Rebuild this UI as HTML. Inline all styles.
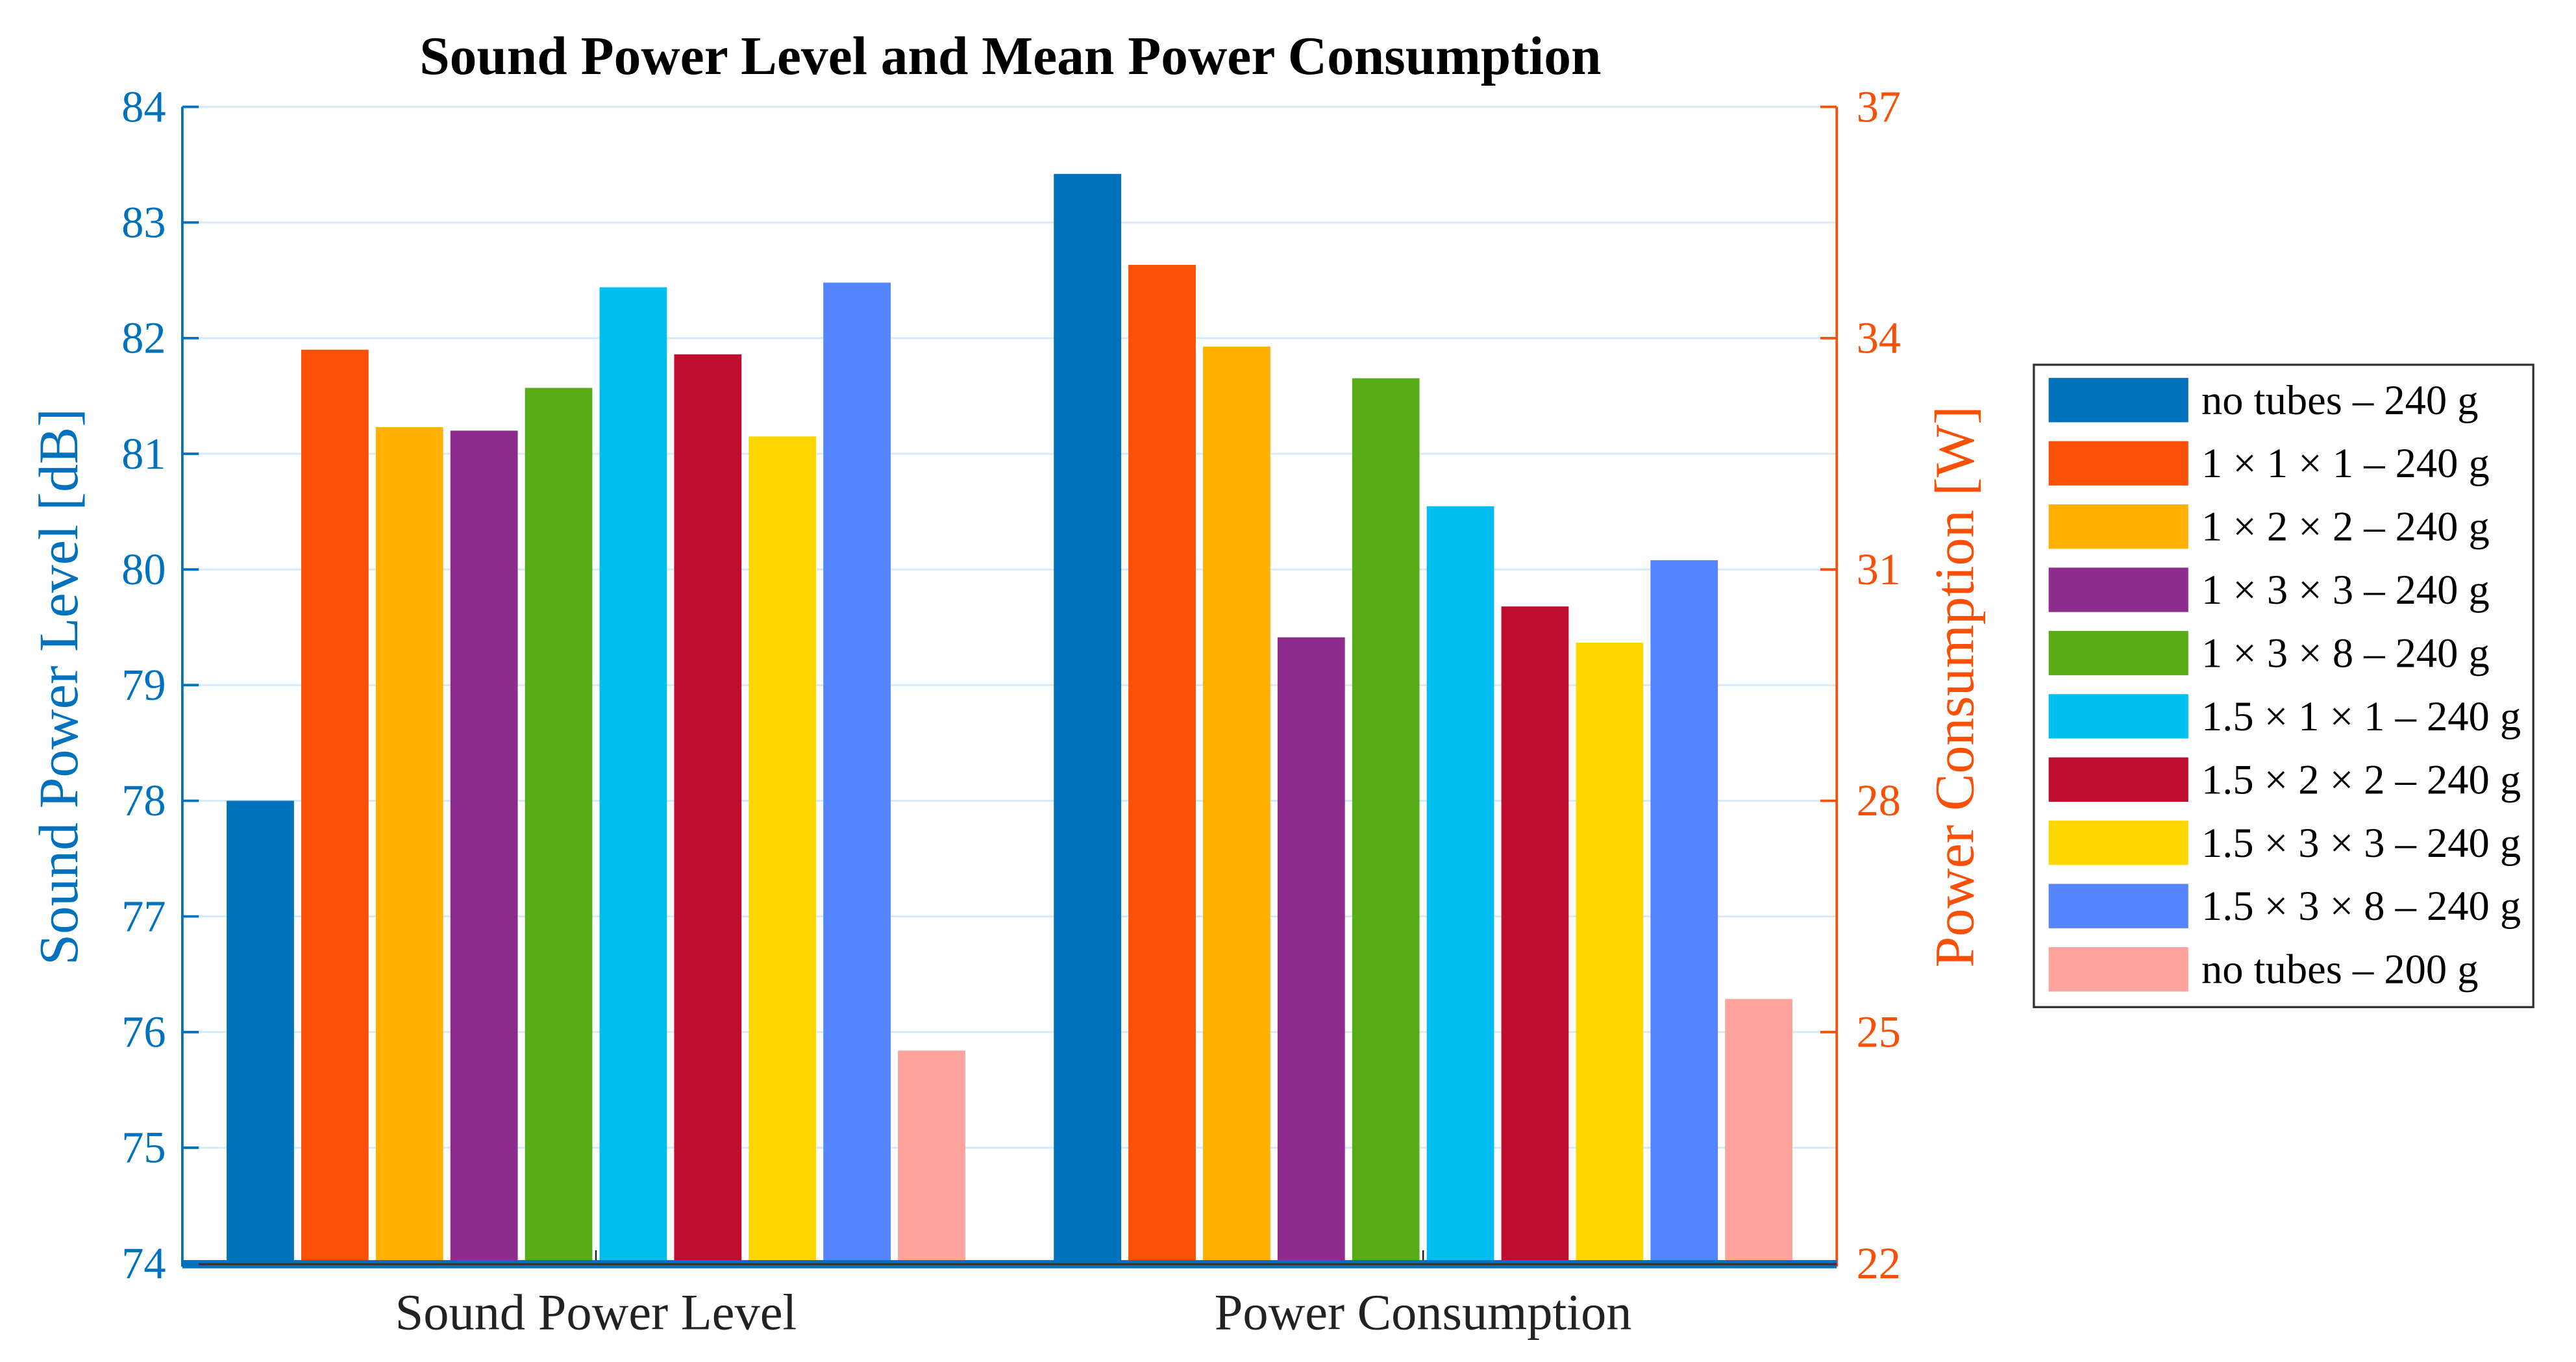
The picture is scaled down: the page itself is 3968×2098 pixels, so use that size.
<!DOCTYPE html>
<html><head><meta charset="utf-8"><style>
html,body{margin:0;padding:0;background:#fff;}
svg{display:block;font-family:"Liberation Serif",serif;}
</style></head><body>
<svg id="chart" width="3968" height="2098" viewBox="0 0 1568 829" xmlns="http://www.w3.org/2000/svg">
<text x="615" y="45" text-anchor="middle" font-size="33" font-weight="bold" fill="#000">Sound Power Level and Mean Power Consumption</text>
<g id="grid"></g>
<g id="bars"></g>
<g id="axes"></g>
<text transform="translate(47,418) rotate(-90)" text-anchor="middle" font-size="34" fill="#0072BD">Sound Power Level [dB]</text>
<text transform="translate(1201,418) rotate(-90)" text-anchor="middle" font-size="34" fill="#F94F06">Power Consumption [W]</text>
<g id="legend"></g>
</svg>
<script>
const categories = ["Sound Power Level", "Power Consumption"];
const seriesNames = ["no tubes \u2013 240 g","1 \u00d7 1 \u00d7 1 \u2013 240 g","1 \u00d7 2 \u00d7 2 \u2013 240 g","1 \u00d7 3 \u00d7 3 \u2013 240 g","1 \u00d7 3 \u00d7 8 \u2013 240 g","1.5 \u00d7 1 \u00d7 1 \u2013 240 g","1.5 \u00d7 2 \u00d7 2 \u2013 240 g","1.5 \u00d7 3 \u00d7 3 \u2013 240 g","1.5 \u00d7 3 \u00d7 8 \u2013 240 g","no tubes \u2013 200 g"];
const soundValues = [78.0, 81.9, 81.23, 81.2, 81.57, 82.44, 81.86, 81.15, 82.48, 75.84];
const powerValues = [36.13, 34.95, 33.89, 30.12, 33.48, 31.82, 30.52, 30.05, 31.12, 25.43];
const leftTicks = [74,75,76,77,78,79,80,81,82,83,84];
const rightTicks = [22,25,28,31,34,37];
const colors = ["#0072BD","#F94F06","#FFB000","#8E2C8E","#58AC17","#00BEEF","#BE0D2E","#FFD700","#5584FF","#FFA39D"];

const NS="http://www.w3.org/2000/svg";
const X0=111,X1=1118,YT=65,YB=769;
const yL=v=>YB-(v-74)/(84-74)*(YB-YT);
const yR=v=>YB-(v-22)/(37-22)*(YB-YT);
const groupCenter=i=>X0+(X1-X0)*(i===0?0.25:0.75);
function mk(tag,attrs,parent){const e=document.createElementNS(NS,tag);for(const k in attrs)e.setAttribute(k,attrs[k]);parent.appendChild(e);return e;}
const grid=document.getElementById('grid'),bars=document.getElementById('bars'),axes=document.getElementById('axes'),legend=document.getElementById('legend');

leftTicks.forEach(t=>{
  const l=mk('line',{x1:X0,x2:X1,y1:yL(t),y2:yL(t),stroke:"#d6eaf7","stroke-width":1.2},grid);
  
  
  const tk=mk('line',{x1:X0,x2:X0+10,y1:yL(t),y2:yL(t),stroke:"#0072BD","stroke-width":1.5},axes);
  
  
  const tx=mk('text',{x:X0-10,y:yL(t)+9,"text-anchor":"end","font-size":27,fill:"#0072BD"},axes);
  tx.textContent=t;
  
  
});
rightTicks.forEach(t=>{
  const tk=mk('line',{x1:X1-10,x2:X1,y1:yR(t),y2:yR(t),stroke:"#F94F06","stroke-width":1.5},axes);
  
  
  const tx=mk('text',{x:X1+12,y:yR(t)+9,"font-size":27,fill:"#F94F06"},axes);
  tx.textContent=t;
  
  
});

const step=45.4,bw=41;
[soundValues,powerValues].forEach((vals,g)=>{
  const c=groupCenter(g);
  vals.forEach((v,i)=>{
    const x=c+(i-4.5)*step-bw/2;
    const y=g===0?yL(v):yR(v);
    const r=mk('rect',{x:x,y:y,width:bw,height:YB-y,fill:colors[i]},bars);
    
    
  });
  const lab=mk('text',{x:c,y:809,"text-anchor":"middle","font-size":31,fill:"#222"},axes);
  lab.textContent=categories[g];
  
  
  const tk=mk('line',{x1:c,x2:c,y1:YB-8,y2:YB,stroke:"#222","stroke-width":1},axes);
  
  
});
const la=mk('line',{x1:X0,x2:X0,y1:YT,y2:YB+2,stroke:"#0072BD","stroke-width":1.5},axes);


const ra=mk('line',{x1:X1,x2:X1,y1:YT,y2:YB+2,stroke:"#F94F06","stroke-width":1.5},axes);


const xb=mk('rect',{x:X0,y:YB-2,width:X1-X0,height:5,fill:"#0072BD"},axes);


const xb2=mk('line',{x1:X0+10,x2:X1,y1:YB+0.5,y2:YB+0.5,stroke:"#333","stroke-width":1.2},axes);



const box=mk('rect',{x:1238,y:222,width:304,height:391,fill:"#fff",stroke:"#333","stroke-width":1.3},legend);


seriesNames.forEach((n,i)=>{
  const cy=243+i*38.5;
  const sw=mk('rect',{x:1247,y:cy-13,width:85,height:27,fill:colors[i]},legend);
  
  
  const t=mk('text',{x:1340,y:cy+9,"font-size":25.5,fill:"#000"},legend);
  t.textContent=n;
  
  
});
</script>
</body></html>
